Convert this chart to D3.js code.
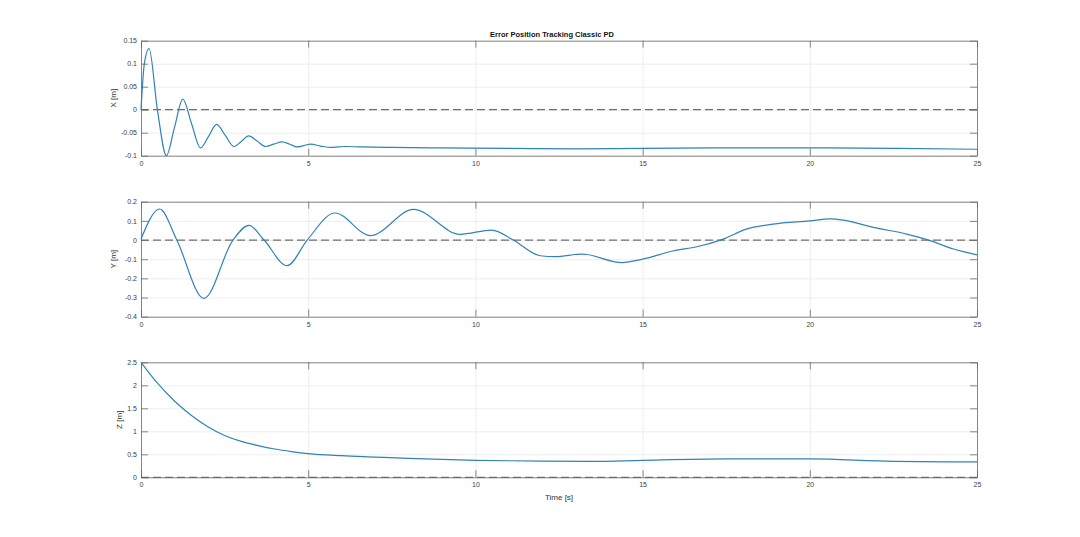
<!DOCTYPE html>
<html lang="en">
<head>
	<meta charset="UTF-8">
	<title>Error Position Tracking Classic PD</title>
	<style>
		body { margin: 0; background: #fff; }
		.axis text { font-family: "Liberation Sans", Arial, sans-serif; font-size: 7px; fill: #404040; }
		.axis path, .axis line { stroke: #6a6a6a; stroke-width: 0.8; }
		.grid line { stroke: #e6e6e6; stroke-width: 0.7; }
		.grid path { stroke: none; }
	</style>
</head>
<body>
<script src="https://d3js.org/d3.v7.min.js"></script>
<script>
	// chart size
	let width = 1080;
	let height = 537;
	let left = 141, plotW = 836, plotH = 115;
	let tops = [40.7, 201.7, 362.3];

	// time axis
	let timeTicks = [0, 5, 10, 15, 20, 25];

	// X error
	let timeX = [0, 0.1, 0.24, 0.49, 0.76, 1.0, 1.25, 1.51, 1.78, 2.02, 2.26, 2.52, 2.78, 3.0, 3.22, 3.47, 3.72, 3.97, 4.22, 4.45, 4.67, 4.87, 5.07, 5.37, 5.67, 5.9, 6.12, 6.6, 7.5, 9, 11, 13, 15, 17.5, 20, 22.5, 25];
	let errX = [0, 0.1, 0.133, 0, -0.1, -0.039, 0.023, -0.03, -0.083, -0.058, -0.032, -0.056, -0.08, -0.069, -0.057, -0.068, -0.08, -0.075, -0.07, -0.075, -0.081, -0.078, -0.075, -0.079, -0.082, -0.081, -0.08, -0.081, -0.082, -0.083, -0.084, -0.085, -0.084, -0.083, -0.083, -0.084, -0.086];
	let ticksX = [-0.1, -0.05, 0, 0.05, 0.1, 0.15];

	// Y error
	let timeY = [0, 0.56, 1.07, 1.88, 2.75, 3.23, 3.68, 4.37, 4.97, 5.8, 6.86, 8.15, 9.54, 10.49, 11.13, 11.94, 12.39, 13.19, 14.38, 15, 15.93, 16.62, 17.41, 18.1, 18.9, 20, 20.6, 21, 21.9, 22.9, 23.6, 24.3, 25];
	let errY = [0.005, 0.162, 0, -0.304, 0, 0.077, 0, -0.134, 0, 0.141, 0.023, 0.16, 0.03, 0.052, 0, -0.082, -0.087, -0.073, -0.118, -0.1, -0.056, -0.035, 0.005, 0.057, 0.083, 0.1, 0.11, 0.104, 0.066, 0.031, -0.003, -0.047, -0.077];
	let ticksY = [-0.4, -0.3, -0.2, -0.1, 0, 0.1, 0.2];

	// Z error
	let timeZ = [0, 0.5, 1, 1.5, 2, 2.5, 3, 3.5, 4, 4.5, 5, 6, 7, 8, 10, 12, 13.5, 15, 17.5, 20, 22.5, 25];
	let errZ = [2.5, 2.04, 1.66, 1.35, 1.1, 0.91, 0.78, 0.69, 0.615, 0.56, 0.516, 0.47, 0.44, 0.41, 0.37, 0.35, 0.345, 0.37, 0.4, 0.4, 0.345, 0.335];
	let ticksZ = [0, 0.5, 1, 1.5, 2, 2.5];

	let panels = [
		{ t: timeX, v: errX, ticks: ticksX, domain: [-0.1, 0.15], label: 'X [m]', labelX: 113 },
		{ t: timeY, v: errY, ticks: ticksY, domain: [-0.4, 0.2], label: 'Y [m]', labelX: 113 },
		{ t: timeZ, v: errZ, ticks: ticksZ, domain: [0, 2.5], label: 'Z [m]', labelX: 119 }
	];

	let svg = d3.select('body')
			.append('svg')
			.attr('width', width)
			.attr('height', height);

	let xScale = d3.scaleLinear()
			.domain([0, 25])
			.range([0, plotW]);

	panels.forEach(function(p, i) {
		let yScale = d3.scaleLinear()
				.domain(p.domain)
				.range([plotH, 0]);
		let g = svg.append('g')
				.attr('transform', 'translate(' + left + ',' + tops[i] + ')');

		// grid
		g.append('g')
				.attr('class', 'grid')
				.call(d3.axisBottom(xScale).tickValues(timeTicks).tickSize(plotH).tickFormat(''));
		g.append('g')
				.attr('class', 'grid')
				.call(d3.axisRight(yScale).tickValues(p.ticks).tickSize(plotW).tickFormat(''));

		// zero reference
		g.append('line')
				.attr('x1', xScale(0))
				.attr('x2', xScale(25))
				.attr('y1', yScale(0))
				.attr('y2', yScale(0))
				.attr('stroke', '#6e6e6e')
				.attr('stroke-width', 1.3)
				.attr('stroke-dasharray', '8,4');

		let linePath = d3.line()
				.x(function(d, k){ return xScale(p.t[k]) })
				.y(function(d){ return yScale(d) })
				.curve(d3.curveMonotoneX);

		g.append('path')
				.attr('d', linePath(p.v))
				.attr('fill', 'none')
				.attr('stroke', '#2f84b4')
				.attr('stroke-width', 1.2);

		// box axes, ticks pointing inward
		g.append('g')
				.attr('class', 'axis')
				.attr('transform', 'translate(0,' + plotH + ')')
				.call(d3.axisBottom(xScale).tickValues(timeTicks).tickSizeInner(-7).tickSizeOuter(0).tickPadding(5)
						.tickFormat(function(d){ return String(d) }));
		g.append('g')
				.attr('class', 'axis')
				.call(d3.axisTop(xScale).tickValues(timeTicks).tickSizeInner(-7).tickSizeOuter(0).tickFormat(''));
		g.append('g')
				.attr('class', 'axis')
				.call(d3.axisLeft(yScale).tickValues(p.ticks).tickSizeInner(-7).tickSizeOuter(0).tickPadding(4)
						.tickFormat(function(d){ return String(d) }));
		g.append('g')
				.attr('class', 'axis')
				.attr('transform', 'translate(' + plotW + ',0)')
				.call(d3.axisRight(yScale).tickValues(p.ticks).tickSizeInner(-7).tickSizeOuter(0).tickFormat(''));

		svg.append('text')
				.text(p.label)
				.attr('transform', 'translate(' + p.labelX + ',' + (tops[i] + plotH / 2) + ') rotate(-90)')
				.attr('text-anchor', 'middle')
				.attr('dy', '0.35em')
				.attr('font-family', 'Liberation Sans, Arial, sans-serif')
				.attr('font-size', '8px')
				.attr('fill', '#333');
	});

	svg.append('text')
			.text('Error Position Tracking Classic PD')
			.attr('x', 552)
			.attr('y', 37)
			.attr('text-anchor', 'middle')
			.attr('font-family', 'Liberation Sans, Arial, sans-serif')
			.attr('font-weight', 'bold')
			.attr('font-size', '7.5px')
			.attr('fill', '#111');

	svg.append('text')
			.text('Time [s]')
			.attr('x', 559)
			.attr('y', 500)
			.attr('text-anchor', 'middle')
			.attr('font-family', 'Liberation Sans, Arial, sans-serif')
			.attr('font-size', '8px')
			.attr('fill', '#333');
</script>
</body>
</html>
